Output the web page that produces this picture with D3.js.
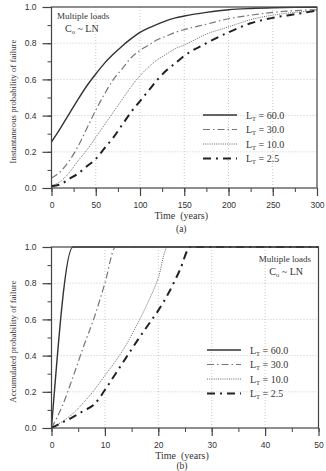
<!DOCTYPE html>
<html>
<head>
<meta charset="UTF-8">
<script src="https://d3js.org/d3.v7.min.js"></script>
<style>
  body { margin: 0; background: #fff; }
  svg { display: block; font-family: "Liberation Serif", "Times New Roman", serif; }
  .tick text { font-size: 8.5px; fill: #333; }
  .grid line { stroke: #bbb; stroke-dasharray: 1,2; stroke-width: 0.8; }
</style>
</head>
<body>
<div id="chart"></div>
<script>
// ---- data (a): instantaneous probability of failure ----
const timeA = [0, 10, 20, 30, 40, 50, 60, 70, 80, 90, 100, 110, 120, 130, 140, 150, 175, 200, 225, 250, 275, 300];
const instL60  = [0.255, 0.33, 0.41, 0.49, 0.565, 0.63, 0.69, 0.74, 0.785, 0.825, 0.86, 0.885, 0.905, 0.925, 0.94, 0.95, 0.97, 0.985, 0.992, 0.996, 0.998, 0.999];
const instL30  = [0.055, 0.09, 0.15, 0.23, 0.33, 0.43, 0.52, 0.60, 0.66, 0.72, 0.76, 0.79, 0.82, 0.84, 0.86, 0.875, 0.905, 0.935, 0.955, 0.97, 0.98, 0.985];
const instL10  = [0.015, 0.035, 0.085, 0.15, 0.21, 0.28, 0.35, 0.42, 0.49, 0.56, 0.62, 0.67, 0.71, 0.74, 0.77, 0.79, 0.85, 0.89, 0.93, 0.955, 0.97, 0.98];
const instL2_5 = [0.01, 0.02, 0.05, 0.08, 0.12, 0.16, 0.22, 0.28, 0.35, 0.42, 0.48, 0.54, 0.60, 0.65, 0.69, 0.73, 0.80, 0.86, 0.91, 0.94, 0.96, 0.98];

// ---- data (b): accumulated probability of failure ----
const accTimeL60 = [0, 4, 50];
const accL60     = [0, 1.0, 1.0];
const accTimeL30 = [0, 2, 4, 6, 8, 10, 12, 50];
const accL30     = [0, 0.12, 0.28, 0.45, 0.61, 0.80, 1.0, 1.0];
const accTimeL10 = [0, 2, 4, 6, 8, 10, 12, 14, 16, 18, 20, 21.7, 50];
const accL10     = [0, 0.035, 0.08, 0.14, 0.21, 0.29, 0.37, 0.46, 0.57, 0.69, 0.83, 1.0, 1.0];
const accTimeL2_5 = [0, 2, 4, 6, 8, 10, 12, 14, 16, 18, 20, 22, 24, 26, 50];
const accL2_5     = [0, 0.03, 0.06, 0.095, 0.13, 0.21, 0.30, 0.39, 0.48, 0.565, 0.65, 0.75, 0.87, 1.0, 1.0];

const seriesNames = ["60.0", "30.0", "10.0", "2.5"];
const yTicks = [0, 0.2, 0.4, 0.6, 0.8, 1.0];

const styles = {
  "60.0": { stroke: "#333", width: 1.4, dash: null },
  "30.0": { stroke: "#777", width: 1.2, dash: "7,3,1.5,3" },
  "10.0": { stroke: "#555", width: 0.9, dash: "1,1.2" },
  "2.5":  { stroke: "#222", width: 2,   dash: "8,5,2,5" }
};

const svg = d3.select("#chart").append("svg")
  .attr("width", 326).attr("height", 471);

function drawPanel(cfg) {
  const x = d3.scaleLinear().domain(cfg.xDomain).range([cfg.left, cfg.right]);
  const y = d3.scaleLinear().domain([0, 1]).range([cfg.bottom, cfg.top]);
  const g = svg.append("g");

  // grid
  const grid = g.append("g").attr("class", "grid");
  grid.selectAll("line.v").data(cfg.xTicks.slice(1, -1)).enter().append("line")
    .attr("x1", d => x(d)).attr("x2", d => x(d))
    .attr("y1", cfg.top).attr("y2", cfg.bottom);
  grid.selectAll("line.h").data(yTicks.slice(1, -1)).enter().append("line")
    .attr("x1", cfg.left).attr("x2", cfg.right)
    .attr("y1", d => y(d)).attr("y2", d => y(d));

  // clip
  const clipId = "clip" + cfg.id;
  svg.append("clipPath").attr("id", clipId).append("rect")
    .attr("x", cfg.left).attr("y", cfg.top - 1)
    .attr("width", cfg.right - cfg.left).attr("height", cfg.bottom - cfg.top + 1);

  const line = d3.line().x(d => x(d[0])).y(d => y(d[1])).curve(d3.curveMonotoneX);
  cfg.series.forEach((s, i) => {
    const st = styles[seriesNames[i]];
    g.append("path")
      .datum(d3.zip(s.t, s.v))
      .attr("clip-path", `url(#${clipId})`)
      .attr("d", line)
      .attr("fill", "none")
      .attr("stroke", st.stroke)
      .attr("stroke-width", st.width)
      .attr("stroke-dasharray", st.dash);
  });

  // frame
  g.append("rect")
    .attr("x", cfg.left).attr("y", cfg.top)
    .attr("width", cfg.right - cfg.left).attr("height", cfg.bottom - cfg.top)
    .attr("fill", "none").attr("stroke", "#444").attr("stroke-width", 1.2);

  // axes: major + minor ticks pointing outward
  const xMinor = d3.range(cfg.xDomain[0], cfg.xDomain[1] + 0.001, cfg.xMinorStep);
  g.append("g").attr("transform", `translate(0,${cfg.bottom})`)
    .call(d3.axisBottom(x).tickValues(xMinor).tickSize(4).tickSizeOuter(0).tickFormat(""))
    .call(a => a.select(".domain").remove())
    .selectAll("line").attr("stroke", "#444");
  g.append("g").attr("transform", `translate(0,${cfg.bottom})`)
    .call(d3.axisBottom(x).tickValues(cfg.xTicks).tickSize(8).tickSizeOuter(0).tickPadding(6).tickFormat(d3.format("d")))
    .call(a => a.select(".domain").remove())
    .call(a => a.selectAll("line").attr("stroke", "#444").attr("stroke-width", 1.2));

  const yMinor = d3.range(0, 1.001, 0.1);
  g.append("g").attr("transform", `translate(${cfg.left},0)`)
    .call(d3.axisLeft(y).tickValues(yMinor).tickSize(4).tickSizeOuter(0).tickFormat(""))
    .call(a => a.select(".domain").remove())
    .selectAll("line").attr("stroke", "#444");
  g.append("g").attr("transform", `translate(${cfg.left},0)`)
    .call(d3.axisLeft(y).tickValues(yTicks).tickSize(9).tickSizeOuter(0).tickPadding(6).tickFormat(d3.format(".1f")))
    .call(a => a.select(".domain").remove())
    .call(a => a.selectAll("line").attr("stroke", "#444").attr("stroke-width", 1.2));

  // axis titles
  svg.append("text")
    .attr("transform", `translate(13,${(cfg.top + cfg.bottom) / 2 + 4}) rotate(-90)`)
    .attr("text-anchor", "middle").attr("dy", "0.35em")
    .attr("font-size", 8.8).attr("fill", "#333")
    .text(cfg.yLabel);
  svg.append("text")
    .attr("x", (cfg.left + cfg.right) / 2 - 3).attr("y", cfg.bottom + 31)
    .attr("text-anchor", "middle").attr("font-size", 10).attr("fill", "#333")
    .attr("xml:space", "preserve")
    .text("Time  (years)");
  svg.append("text")
    .attr("x", (cfg.left + cfg.right) / 2 - 3).attr("y", cfg.tagY)
    .attr("text-anchor", "middle").attr("font-size", 9.5).attr("fill", "#333")
    .text(cfg.tag);

  // annotation
  const note = svg.append("g").attr("font-size", 9).attr("fill", "#333");
  note.append("text").attr("x", cfg.noteX).attr("y", cfg.noteY)
    .attr("text-anchor", cfg.noteAnchor).text("Multiple loads");
  const c0 = note.append("text").attr("x", cfg.noteX2).attr("y", cfg.noteY + 13)
    .attr("text-anchor", cfg.noteAnchor).attr("font-size", 10);
  c0.append("tspan").text("C");
  c0.append("tspan").attr("font-size", 6.5).attr("dy", 2).text("o");
  c0.append("tspan").attr("dy", -2).text(" ~ LN");

  // legend
  const leg = svg.append("g").attr("transform", `translate(${cfg.legX},${cfg.legY})`);
  seriesNames.forEach((n, i) => {
    const st = styles[n];
    const row = leg.append("g").attr("transform", `translate(0,${i * 14.5})`);
    row.append("line").attr("x1", 0).attr("x2", 34).attr("y1", 0).attr("y2", 0)
      .attr("stroke", st.stroke).attr("stroke-width", st.width)
      .attr("stroke-dasharray", st.dash);
    const t = row.append("text").attr("x", 43).attr("y", 3.5)
      .attr("font-size", 10).attr("fill", "#333");
    t.append("tspan").text("L");
    t.append("tspan").attr("font-size", 6.5).attr("dy", 2).text("T");
    t.append("tspan").attr("dy", -2).text(" = " + n);
  });
}

drawPanel({
  id: "a", xDomain: [0, 300], xTicks: [0, 50, 100, 150, 200, 250, 300], xMinorStep: 25,
  left: 51.5, right: 317, top: 7, bottom: 188,
  yLabel: "Instantaneous probability of failure", tag: "(a)", tagY: 232,
  series: [
    { t: timeA, v: instL60 }, { t: timeA, v: instL30 },
    { t: timeA, v: instL10 }, { t: timeA, v: instL2_5 }
  ],
  noteX: 57, noteX2: 65, noteY: 19, noteAnchor: "start",
  legX: 203, legY: 115
});

drawPanel({
  id: "b", xDomain: [0, 50], xTicks: [0, 10, 20, 30, 40, 50], xMinorStep: 5,
  left: 51.5, right: 318.5, top: 247, bottom: 428,
  yLabel: "Accumulated probability of failure", tag: "(b)", tagY: 469,
  series: [
    { t: accTimeL60, v: accL60 }, { t: accTimeL30, v: accL30 },
    { t: accTimeL10, v: accL10 }, { t: accTimeL2_5, v: accL2_5 }
  ],
  noteX: 311, noteX2: 303, noteY: 262, noteAnchor: "end",
  legX: 207, legY: 350
});
</script>
</body>
</html>
